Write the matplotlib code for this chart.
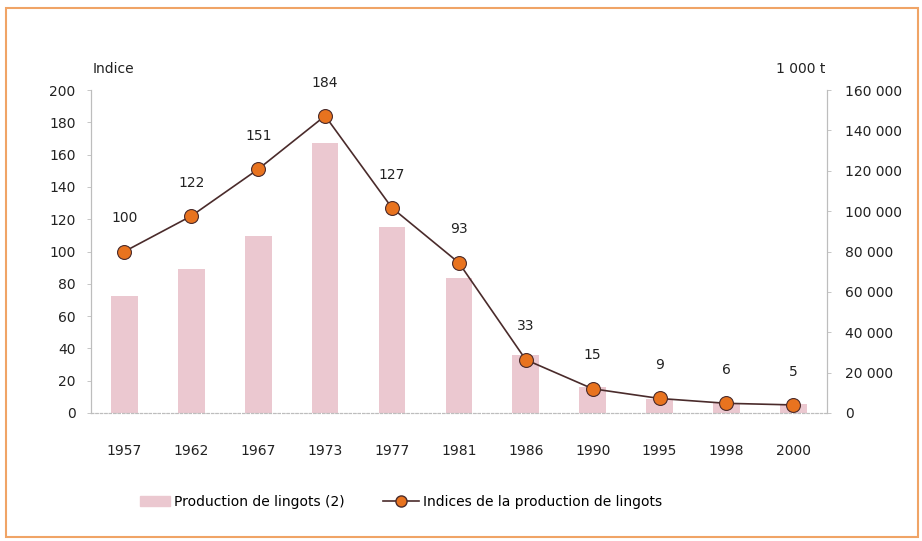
import numpy as np
import matplotlib.pyplot as plt
from matplotlib.patches import Rectangle
from matplotlib.lines import Line2D

# Données
annees = ["1957", "1962", "1967", "1973", "1977", "1981", "1986", "1990", "1995", "1998", "2000"]
production = [58000, 71500, 87500, 134000, 92000, 67000, 28500, 13000, 7000, 5000, 4500]  # 1 000 t
indices = [100, 122, 151, 184, 127, 93, 33, 15, 9, 6, 5]

couleur_barre = '#ebc8d0'
couleur_ligne = '#4a2b2b'
couleur_point = '#e8731f'
couleur_cadre = '#f0a466'
gris = '#bdbdbd'

plt.rcParams['font.family'] = 'DejaVu Sans'
fig = plt.figure(figsize=(9.22, 5.41), dpi=100)

# Cadre orange autour du graphique
fig.patches.append(Rectangle((0.006, 0.008), 0.99, 0.977, transform=fig.transFigure,
                             fill=False, edgecolor=couleur_cadre, linewidth=1.5))

ax = fig.add_axes([0.0987, 0.2366, 0.798, 0.597])
ax2 = ax.twinx()

x = np.arange(len(annees))

# Barres : production (axe de droite)
ax2.bar(x, production, width=0.4, color=couleur_barre, zorder=1)
ax2.set_ylim(0, 160000)
ax2.set_yticks(np.arange(0, 160001, 20000))
ax2.set_yticklabels([f"{v:,}".replace(",", " ") for v in range(0, 160001, 20000)])

# Ligne : indices (axe de gauche)
ax.set_zorder(ax2.get_zorder() + 1)
ax.patch.set_visible(False)
ax.plot(x, indices, color=couleur_ligne, linewidth=1.2, marker='o', markersize=10,
        markerfacecolor=couleur_point, markeredgecolor=couleur_ligne, markeredgewidth=0.8)
for xi, v in zip(x, indices):
    ax.annotate(str(v), (xi, v), xytext=(0, 24), textcoords='offset points',
                ha='center', va='center', fontsize=10, color='#222222')

ax.set_ylim(0, 200)
ax.set_yticks(np.arange(0, 201, 20))
ax.set_xlim(-0.5, len(annees) - 0.5)
ax.set_xticks(x)
ax.set_xticklabels(annees)

for a in (ax, ax2):
    a.spines['top'].set_visible(False)
    a.spines['left'].set_color(gris)
    a.spines['right'].set_color(gris)
    a.spines['bottom'].set_color(gris)
    a.spines['bottom'].set_linestyle((0, (2, 2)))
    a.tick_params(colors='#222222', labelsize=10, length=3, width=0.6)
    a.tick_params(axis='y', color=gris)
ax.tick_params(axis='x', length=0, pad=22)
ax.tick_params(axis='y', pad=8)
ax2.tick_params(axis='y', pad=10)

fig.text(0.101, 0.865, "Indice", fontsize=10, color='#222222')
fig.text(0.895, 0.865, "1 000 t", fontsize=10, color='#222222', ha='right')

# Légende (deux entrées placées séparément)
h_barre = Rectangle((0, 0), 1, 1, color=couleur_barre)
h_ligne = Line2D([0], [0], color=couleur_ligne, linewidth=1.2, marker='o', markersize=8,
                 markerfacecolor=couleur_point, markeredgecolor=couleur_ligne)
fig.legend([h_barre], ["Production de lingots (2)"], loc='center left',
           bbox_to_anchor=(0.138, 0.073), frameon=False, fontsize=10,
           handlelength=2.2, handletextpad=0.3)
fig.legend([h_ligne], ["Indices de la production de lingots"], loc='center left',
           bbox_to_anchor=(0.402, 0.073), frameon=False, fontsize=10,
           handlelength=2.6, handletextpad=0.3)

plt.savefig("out.png", dpi=100)
